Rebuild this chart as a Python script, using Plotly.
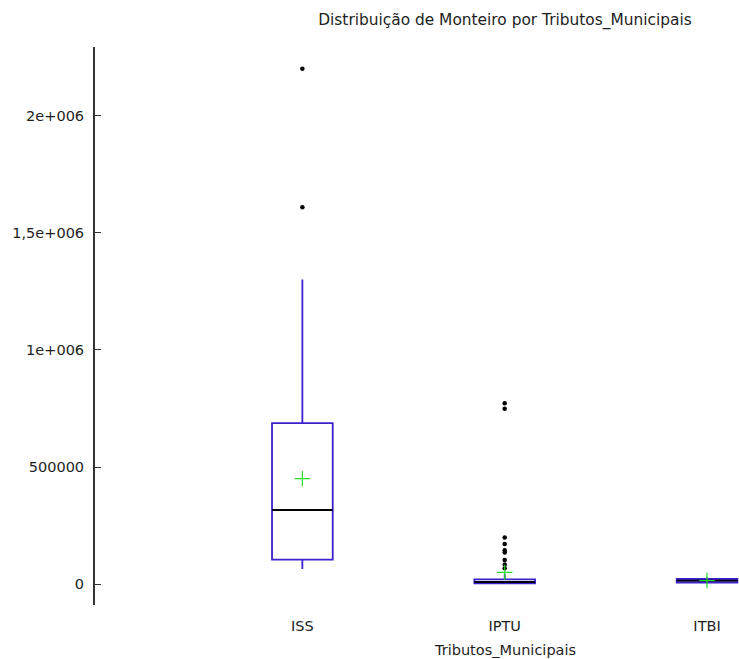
import plotly.graph_objects as go

categories = ["ISS", "IPTU", "ITBI"]
q1 = [105000, 4300, 6800]
median = [317000, 9800, 15300]
q3 = [688000, 21300, 22600]
lower_fence = [65000, 0, 2000]
upper_fence = [1300000, 45000, 30000]
means = [451000, 51000, 16200]
outliers = [
    [2200000, 1609000],
    [773000, 749000, 200000, 172000, 145000, 136000, 104000, 85000, 68000],
    [],
]

ytick_vals = [0, 500000, 1000000, 1500000, 2000000]
ytick_text = ["0", "500000", "1e+006", "1,5e+006", "2e+006"]

BOX_COLOR = "#3a22cc"
BOX_W = 0.30
FONT = "DejaVu Sans"
TXT = "#1e1e1e"

fig = go.Figure()
for i, cat in enumerate(categories):
    fig.add_trace(go.Box(
        x=[i], q1=[q1[i]], median=[median[i]], q3=[q3[i]],
        lowerfence=[lower_fence[i]], upperfence=[upper_fence[i]],
        width=BOX_W, fillcolor="rgba(0,0,0,0)",
        line=dict(color=BOX_COLOR, width=1.8),
        whiskerwidth=0, boxpoints=False, name=cat, showlegend=False,
        hoverinfo="skip",
    ))
    # median line in black
    fig.add_trace(go.Scatter(
        x=[i - BOX_W / 2, i + BOX_W / 2], y=[median[i], median[i]],
        mode="lines", line=dict(color="black", width=1.8),
        showlegend=False, hoverinfo="skip",
    ))
    # outliers
    if outliers[i]:
        fig.add_trace(go.Scatter(
            x=[i] * len(outliers[i]), y=outliers[i], mode="markers",
            marker=dict(color="black", size=4.5),
            showlegend=False, hoverinfo="skip",
        ))
    # mean marker
    fig.add_trace(go.Scatter(
        x=[i], y=[means[i]], mode="markers",
        marker=dict(symbol="cross-thin", size=11,
                    line=dict(color="#22dd22", width=1.2)),
        showlegend=False, hoverinfo="skip",
    ))

fig.update_layout(
    width=739, height=659,
    margin=dict(l=95, r=0, t=47, b=54),
    paper_bgcolor="white", plot_bgcolor="white",
    font=dict(family=FONT, size=14.5, color=TXT),
    title=dict(
        text="Distribuição de Monteiro por Tributos_Municipais",
        x=505 / 739, xref="container", xanchor="center",
        y=1 - 20 / 659, yref="container", yanchor="middle",
        font=dict(family=FONT, size=15.4, color=TXT),
    ),
    xaxis=dict(
        range=[-1.025, 2.158], tickvals=list(range(len(categories))),
        ticktext=categories, showgrid=False, zeroline=False,
        showline=False, ticks="", ticklabelstandoff=10,
        tickfont=dict(family=FONT, size=14.5, color=TXT),
    ),
    yaxis=dict(
        range=[-88300, 2292500], tickvals=ytick_vals, ticktext=ytick_text,
        showgrid=False, zeroline=False, showline=True,
        linecolor="#333333", linewidth=2, ticks="inside", ticklen=6,
        tickcolor="#333333", tickwidth=1, ticklabelstandoff=6,
        tickfont=dict(family=FONT, size=14.5, color=TXT),
    ),
    annotations=[dict(
        text="Tributos_Municipais", xref="paper", yref="paper",
        x=(505 - 95) / (739 - 95), y=0, yshift=-45,
        xanchor="center", yanchor="middle", showarrow=False,
        font=dict(family=FONT, size=14.5, color=TXT),
    )],
)

fig.write_html("out.html")
